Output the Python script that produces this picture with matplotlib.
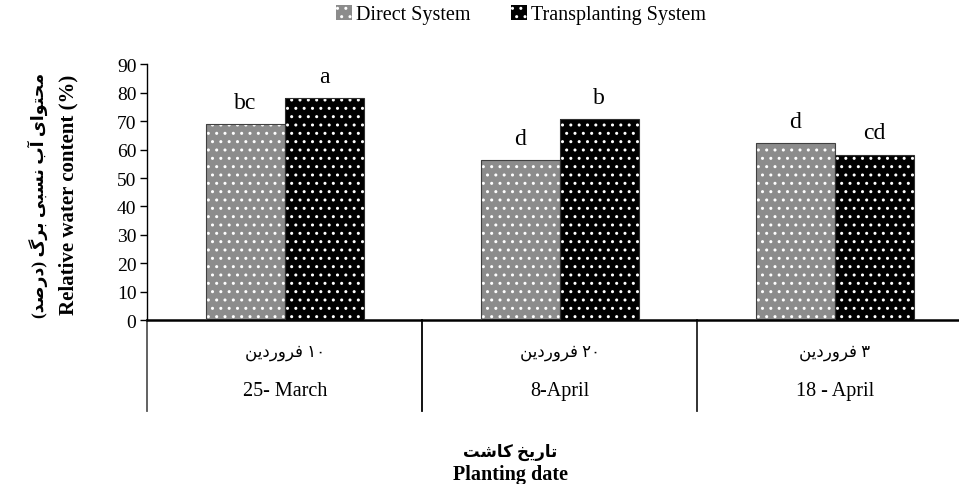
import re
import numpy as np
import matplotlib
matplotlib.use("Agg")
import matplotlib.pyplot as plt
from matplotlib.patches import Patch
from matplotlib.lines import Line2D

plt.rcParams['font.family'] = ['Liberation Serif', 'DejaVu Sans']
plt.rcParams['hatch.linewidth'] = 1.0

# data
dates_fa = ["۱۰ فروردین", "۲۰ فروردین", "۳ فروردین"]
dates_en = ["25- March", "8-April", "18 - April"]
direct = [69, 56.3, 62.2]
transplant = [78.2, 70.7, 58.3]
letters_direct = ["bc", "d", "d"]
letters_transplant = ["a", "b", "cd"]
series_names = ["Direct System", "Transplanting System"]
ylabel_fa = "محتوای آب نسبی برگ (درصد)"
ylabel_en = "Relative water content (%)"
xlabel_fa = "تاریخ کاشت"
xlabel_en = "Planting date"

# minimal persian shaping (presentation forms: isolated, final, initial, medial)
FORMS = {
    'ا': ('\uFE8D', '\uFE8E', None, None),
    'آ': ('\uFE81', '\uFE82', None, None),
    'ب': ('\uFE8F', '\uFE90', '\uFE91', '\uFE92'),
    'ت': ('\uFE95', '\uFE96', '\uFE97', '\uFE98'),
    'ح': ('\uFEA1', '\uFEA2', '\uFEA3', '\uFEA4'),
    'خ': ('\uFEA5', '\uFEA6', '\uFEA7', '\uFEA8'),
    'د': ('\uFEA9', '\uFEAA', None, None),
    'ر': ('\uFEAD', '\uFEAE', None, None),
    'س': ('\uFEB1', '\uFEB2', '\uFEB3', '\uFEB4'),
    'ش': ('\uFEB5', '\uFEB6', '\uFEB7', '\uFEB8'),
    'ص': ('\uFEB9', '\uFEBA', '\uFEBB', '\uFEBC'),
    'ف': ('\uFED1', '\uFED2', '\uFED3', '\uFED4'),
    'م': ('\uFEE1', '\uFEE2', '\uFEE3', '\uFEE4'),
    'ن': ('\uFEE5', '\uFEE6', '\uFEE7', '\uFEE8'),
    'و': ('\uFEED', '\uFEEE', None, None),
    'ی': ('\uFBFC', '\uFBFD', '\uFBFE', '\uFBFF'),
    'ک': ('\uFB8E', '\uFB8F', '\uFB90', '\uFB91'),
    'گ': ('\uFB92', '\uFB93', '\uFB94', '\uFB95'),
}


def shape(s):
    out = []
    for i, c in enumerate(s):
        if c not in FORMS:
            out.append(c)
            continue
        prev = s[i - 1] if i > 0 else ''
        nxt = s[i + 1] if i + 1 < len(s) else ''
        p = prev in FORMS and FORMS[prev][2] is not None
        n = FORMS[c][2] is not None and nxt in FORMS
        iso, fin, ini, med = FORMS[c]
        out.append(med if (p and n) else fin if p else ini if n else iso)
    return ''.join(out)


def rtl(s):
    rev = shape(s)[::-1].translate(str.maketrans('()', ')('))
    return re.sub('[0-9\u06F0-\u06F9]+', lambda m: m.group(0)[::-1], rev)


fig = plt.figure(figsize=(9.59, 4.85), dpi=100)
ax = fig.add_axes([0.1538, 0.338, 0.860, 0.527])

x = np.arange(len(dates_en))
w = 0.287
gray = '#8c8c8c'

ax.bar(x - w / 2, direct, w, color=gray, edgecolor='white', hatch='..', linewidth=0, zorder=2)
ax.bar(x + w / 2, transplant, w, color='black', edgecolor='white', hatch='..', linewidth=0, zorder=2)
ax.bar(x - w / 2, direct, w, fill=False, edgecolor='#404040', linewidth=0.8, zorder=3)
ax.bar(x + w / 2, transplant, w, fill=False, edgecolor='#303030', linewidth=0.8, zorder=3)

for xi, v, t in zip(x - w / 2, direct, letters_direct):
    ax.annotate(t, (xi, v), xytext=(0, 8), textcoords='offset points', ha='center', va='bottom', fontsize=17)
for xi, v, t in zip(x + w / 2, transplant, letters_transplant):
    ax.annotate(t, (xi, v), xytext=(0, 8), textcoords='offset points', ha='center', va='bottom', fontsize=17)

ax.set_xlim(-0.5, 2.5)
ax.set_ylim(0, 90)
ax.set_yticks(np.arange(0, 91, 10))
ax.tick_params(axis='y', labelsize=14, length=5, width=1, direction='out', pad=3)
ax.set_xticks([])
for s in ['top', 'right']:
    ax.spines[s].set_visible(False)
ax.spines['left'].set_linewidth(1.0)
ax.spines['bottom'].set_linewidth(1.8)

# category separators and labels
for xs, col in zip([-0.5, 0.5, 1.5], ['#555555', 'black', '#222222']):
    ax.add_line(Line2D([xs, xs], [0, -0.355], transform=ax.get_xaxis_transform(),
                       color=col, linewidth=1.3, clip_on=False))
for xi, fa, en in zip(x, dates_fa, dates_en):
    ax.text(xi, -0.125, rtl(fa), transform=ax.get_xaxis_transform(), ha='center', va='center', fontsize=12)
    ax.text(xi, -0.275, en, transform=ax.get_xaxis_transform(), ha='center', va='center', fontsize=14.5)

# axis titles
fig.text(0.071, 0.598, ylabel_en, rotation=90, ha='center', va='center', fontsize=15, fontweight='bold')
fig.text(0.040, 0.598, rtl(ylabel_fa), rotation=90, ha='center', va='center', fontsize=12.5, fontweight='bold')
fig.text(0.532, 0.068, rtl(xlabel_fa), ha='center', va='center', fontsize=12, fontweight='bold')
fig.text(0.532, 0.020, xlabel_en, ha='center', va='center', fontsize=14.5, fontweight='bold')

handles = [Patch(facecolor=gray, edgecolor='white', hatch='..', linewidth=0),
           Patch(facecolor='black', edgecolor='white', hatch='..', linewidth=0)]
fig.legend(handles, series_names, loc='center', bbox_to_anchor=(0.543, 0.968), ncol=2, frameon=False,
           fontsize=14.5, handlelength=0.8, handleheight=0.8, handletextpad=0.2, columnspacing=2.0)

fig.savefig('out.png', dpi=100)
